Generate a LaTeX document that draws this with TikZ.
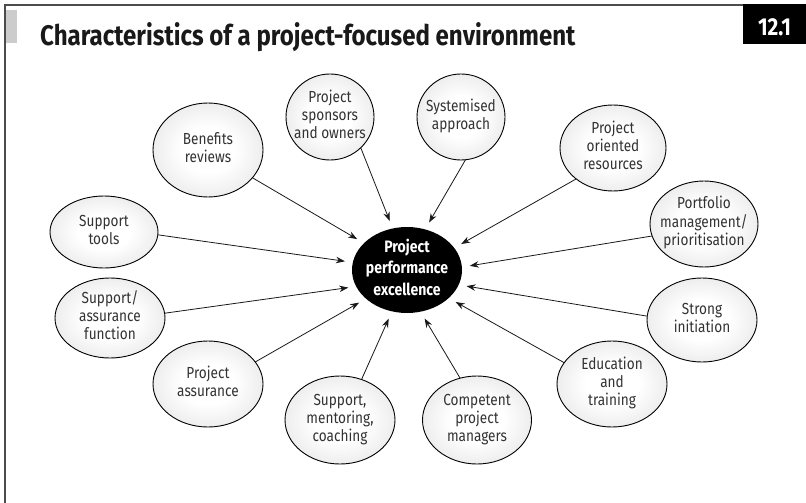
\documentclass[tikz,border=0pt]{standalone}
\usepackage{fontspec}
\setmainfont{Fira Sans}[FakeStretch=0.85]
\usetikzlibrary{shapes.geometric,arrows.meta}
\pgfdeclareradialshading{bubshade}{\pgfpoint{0bp}{0bp}}{color(0bp)=(white); color(12bp)=(white); color(50bp)=(black!20)}
\newcommand\bubtext[1]{\raisebox{-4pt}[0pt][0pt]{\makebox[0pt]{\begin{tabular}{@{}c@{}}#1\end{tabular}}}}
\tikzset{
  bub/.style={ellipse, draw=black, line width=0.9pt, shading=bubshade,
    inner sep=0pt, outer sep=0pt, font=\fontsize{16}{18.3}\selectfont, text=black!80},
  hub/.style={ellipse, fill=black, inner sep=0pt, outer sep=0pt, minimum width=110pt, minimum height=86pt,
    text=white, font=\fontsize{16.5}{21.5}\selectfont\bfseries},
  arr/.style={-{Stealth[length=9pt,width=6.5pt]}, line width=0.8pt, shorten >=8pt, black!90},
  sz/.style 2 args={minimum width=#1pt, minimum height=#2pt}
}
\begin{document}
\begin{tikzpicture}[x=1pt,y=-1pt]
\useasboundingbox (0,0) rectangle (806,503);
\fill[white] (0,0) rectangle (806,503);
% frame
\draw[line width=1.2pt, black!70] (743,5) -- (5,5) -- (5,503);
\fill[black!20] (6,10) rectangle (17,43);
\fill[black] (743,4) rectangle (806,44);
\node[anchor=base, text=white, font=\fontsize{24.5}{26}\selectfont\bfseries, inner sep=0pt] (num) at (774.5,36) {12.1};
\node[anchor=base west, text=black!90, font=\fontsize{28.3}{30}\selectfont\bfseries, inner sep=0pt] (title) at (40,46) {Characteristics of a project-focused environment};
% hub
\node[hub] (ctr) at (407,270) {\raisebox{-4pt}[0pt][0pt]{\makebox[0pt]{\begin{tabular}{@{}c@{}}Project\\performance\\excellence\end{tabular}}}};
% bubbles
\node[bub, sz={110}{94}] (ben) at (208,150) {\bubtext{Benefits\\reviews}};
\node[bub, sz={88}{86}] (spo) at (330,117) {\bubtext{Project\\sponsors\\and owners}};
\node[bub, sz={88}{86}] (sys) at (461,117) {\bubtext{Systemised\\approach}};
\node[bub, sz={106}{86}] (ori) at (613,148) {\bubtext{Project\\oriented\\resources}};
\node[bub, sz={108}{86}] (por) at (704,224) {\bubtext{Portfolio\\management/\\prioritisation}};
\node[bub, sz={110}{84}] (str) at (702,320) {\bubtext{Strong\\initiation}};
\node[bub, sz={110}{86}] (edu) at (612,384) {\bubtext{Education\\and\\training}};
\node[bub, sz={109}{88}] (com) at (477,420) {\bubtext{Competent\\project\\managers}};
\node[bub, sz={110}{88}] (smc) at (340,420) {\bubtext{Support,\\mentoring,\\coaching}};
\node[bub, sz={110}{86}] (pas) at (208,384) {\bubtext{Project\\assurance}};
\node[bub, sz={110}{80}] (saf) at (110,318) {\bubtext{Support/\\assurance\\function}};
\node[bub, sz={108}{72}] (stl) at (104,232) {\bubtext{Support\\tools}};
% arrows
\draw[arr] (ben.-32) -- (ctr.148);
\draw[arr] (spo.-45) -- (ctr.109);
\draw[arr] (sys.-84) -- (ctr.66);
\draw[arr] (ori.-140) -- (ctr.25);
\draw[arr] (por.-167) -- (ctr.3);
\draw[arr] (str.176) -- (ctr.-16);
\draw[arr] (edu.156) -- (ctr.-34);
\draw[arr] (com.112) -- (ctr.-72);
\draw[arr] (smc.62) -- (ctr.-110);
\draw[arr] (pas.25) -- (ctr.-145);
\draw[arr] (saf.5) -- (ctr.-162);
\draw[arr] (stl.-3) -- (ctr.172);
\end{tikzpicture}
\end{document}
